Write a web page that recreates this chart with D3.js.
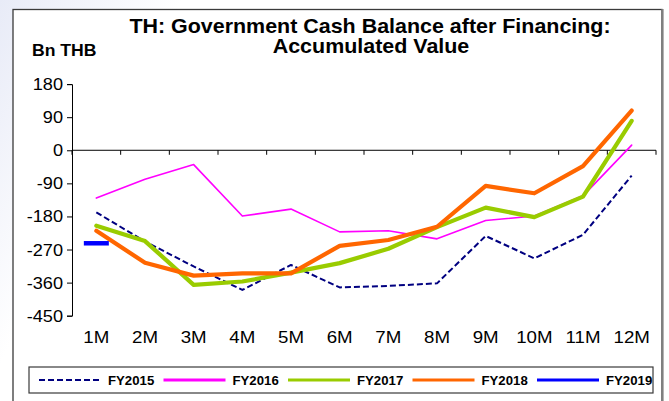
<!DOCTYPE html>
<html>
<head>
<meta charset="utf-8">
<script src="https://cdn.jsdelivr.net/npm/d3@7"></script>
<style>
  body { margin: 0; background: #fff; }
  svg { display: block; font-family: "Liberation Sans", Arial, sans-serif; }
</style>
</head>
<body>
<script>
// Data (Bn THB, accumulated)
const months = ["1M", "2M", "3M", "4M", "5M", "6M", "7M", "8M", "9M", "10M", "11M", "12M"];
const fy2015 = [-169, -248, -316, -380, -312, -373, -369, -362, -233, -294, -230, -69];
const fy2016 = [-130, -79, -39, -179, -160, -222, -219, -241, -191, -179, -124, 14];
const fy2017 = [-205, -247, -366, -357, -333, -307, -268, -209, -156, -182, -126, 80];
const fy2018 = [-219, -306, -341, -335, -335, -260, -244, -208, -97, -117, -43, 108];
const fy2019 = [-253];
const yTicks = [180, 90, 0, -90, -180, -270, -360, -450];

const series = [
  { name: "FY2015", values: fy2015, color: "#000080", width: 2, dash: "6,3" },
  { name: "FY2016", values: fy2016, color: "#ff00ff", width: 1.6, dash: null },
  { name: "FY2017", values: fy2017, color: "#99cc00", width: 4.2, dash: null },
  { name: "FY2018", values: fy2018, color: "#ff6600", width: 4.2, dash: null },
  { name: "FY2019", values: fy2019, color: "#0000ff", width: 4.5, dash: null }
];

const W = 669, H = 401;
const stretch = 1.1; // text in the source is a little wider than tall

const svg = d3.select("body").append("svg")
    .attr("width", W)
    .attr("height", H);

// faint slide background on the left
const defs = svg.append("defs");
const grad = defs.append("linearGradient").attr("id", "bg")
    .attr("x1", 0).attr("y1", 0).attr("x2", 1).attr("y2", 0.3);
grad.append("stop").attr("offset", "0%").attr("stop-color", "#e8ebf7");
grad.append("stop").attr("offset", "25%").attr("stop-color", "#ffffff");
svg.append("rect").attr("width", W).attr("height", H).attr("fill", "url(#bg)");

// chart frame
svg.append("rect")
    .attr("x", 13).attr("y", 9.5)
    .attr("width", 649).attr("height", 420)
    .attr("fill", "#fff")
    .attr("stroke", "#3a3a3a")
    .attr("stroke-width", 1.3);
svg.append("line")
    .attr("x1", 662.5).attr("x2", 662.5).attr("y1", 9).attr("y2", H)
    .attr("stroke", "#808080").attr("stroke-width", 2.2);

// helper for horizontally stretched text
function label(g, x, y, txt, size, weight, anchor) {
  return g.append("text")
      .attr("transform", `translate(${x},${y}) scale(${stretch},1)`)
      .attr("text-anchor", anchor || "start")
      .attr("font-size", size)
      .attr("font-weight", weight || "normal")
      .attr("fill", "#000")
      .text(txt);
}

// Titles
label(svg, 370, 33, "TH: Government Cash Balance after Financing:", 19.5, "bold", "middle");
label(svg, 371, 53, "Accumulated Value", 19.5, "bold", "middle");
label(svg, 32, 56, "Bn THB", 16, "bold");

// Scales
const plot = { left: 72, right: 656, top: 84.1, bottom: 315.7 };
const x = d3.scaleBand().domain(months).range([plot.left, plot.right]).padding(0);
const y = d3.scaleLinear().domain([-450, 180]).range([plot.bottom, plot.top]);
const cx = m => x(m) + x.bandwidth() / 2;

// Y axis
const yAxis = svg.append("g")
    .attr("transform", `translate(${plot.left},0)`)
    .call(d3.axisLeft(y).tickValues(yTicks).tickSize(5).tickPadding(0).tickFormat(() => ""));
yAxis.select(".domain").attr("stroke", "#000").attr("stroke-width", 1);
yAxis.selectAll(".tick line").attr("stroke", "#000");
yTicks.forEach(v => label(svg, 63, y(v) + 6, String(v), 16.5, "normal", "end"));

// X axis along zero
const xAxis = svg.append("g").attr("transform", `translate(0,${y(0)})`);
xAxis.append("line")
    .attr("x1", plot.left).attr("x2", plot.right)
    .attr("stroke", "#000").attr("stroke-width", 1);
const bounds = months.map(m => x(m)).concat([plot.right]);
xAxis.selectAll("line.tk").data(bounds).enter().append("line")
    .attr("class", "tk")
    .attr("x1", d => d).attr("x2", d => d)
    .attr("y1", 0).attr("y2", 4.5)
    .attr("stroke", "#000");
months.forEach(m => label(svg, cx(m), 343, m, 17, "normal", "middle"));

// Lines
const line = d3.line()
    .x((d, i) => cx(months[i]))
    .y(d => y(d));

series.forEach(s => {
  if (s.values.length > 1) {
    svg.append("path")
        .datum(s.values)
        .attr("d", line)
        .attr("fill", "none")
        .attr("stroke", s.color)
        .attr("stroke-width", s.width)
        .attr("stroke-dasharray", s.dash)
        .attr("stroke-linejoin", "round")
        .attr("stroke-linecap", s.dash ? "butt" : "round");
  } else {
    // single-point series shows as a dash marker
    svg.selectAll(null).data(s.values).enter().append("line")
        .attr("x1", (d, i) => cx(months[i]) - 12.5)
        .attr("x2", (d, i) => cx(months[i]) + 12.5)
        .attr("y1", d => y(d)).attr("y2", d => y(d))
        .attr("stroke", s.color)
        .attr("stroke-width", s.width);
  }
});

// Legend
const legend = svg.append("g");
legend.append("rect")
    .attr("x", 29).attr("y", 367)
    .attr("width", 624).attr("height", 26)
    .attr("fill", "#fff")
    .attr("stroke", "#3a3a3a")
    .attr("stroke-width", 1.2);
series.forEach((s, i) => {
  const lx = 39 + i * 124.5;
  legend.append("line")
      .attr("x1", lx).attr("x2", lx + 62)
      .attr("y1", 380).attr("y2", 380)
      .attr("stroke", s.color)
      .attr("stroke-width", s.dash ? 2 : 3)
      .attr("stroke-dasharray", s.dash);
  label(legend, lx + 69, 384.5, s.name, 12, "bold");
});
</script>
</body>
</html>
